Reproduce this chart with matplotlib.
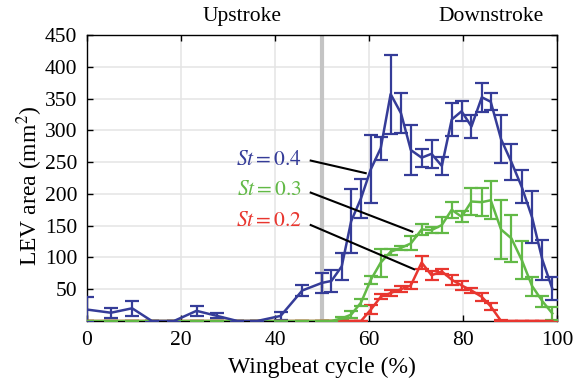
import numpy as np
import matplotlib.pyplot as plt

plt.rcParams['font.family'] = ['Liberation Serif', 'DejaVu Serif']
plt.rcParams['mathtext.fontset'] = 'stix'

# wingbeat cycle (%) for each sample
cycle = [0, 5.1, 9.6, 13.8, 18.5, 23.3, 27.7, 32.0, 36.2, 41.2, 45.8,
         50.0, 52.0, 54.2, 56.2, 58.3, 60.4, 62.5, 64.6, 66.8, 68.9, 71.2,
         73.3, 75.5, 77.6, 79.7, 81.8, 84.0, 85.9, 88.1, 90.3, 92.5, 94.7,
         96.9, 99.0]

# LEV area (mm^2), mean and spread, St = 0.4
lev_04 = [18, 13, 20, 0, 0, 16, 8, 0, 0, 8, 48,
          60, 63, 86, 157, 193, 239, 272, 357, 327, 269, 257,
          263, 244, 317, 330, 306, 352, 345, 286, 250, 211, 163,
          96, 51]
err_04 = [19, 8, 12, 0, 0, 8, 4, 0, 0, 6, 9,
          16, 17, 21, 50, 31, 54, 18, 62, 31, 40, 14,
          22, 14, 26, 16, 18, 23, 13, 38, 28, 26, 41,
          31, 18]

# St = 0.3
lev_03 = [0, 0, 0, 0, 0, 0, 0, 0, 0, 0, 0,
          0, 0, 4, 10, 29, 65, 92, 109, 115, 122, 144,
          143, 151, 175, 164, 188, 187, 190, 144, 130, 96, 55,
          31, 12]
err_03 = [0, 0, 0, 0, 0, 0, 0, 0, 0, 0, 0,
          0, 0, 2, 5, 6, 6, 22, 5, 3, 11, 9,
          5, 13, 13, 9, 21, 22, 30, 46, 37, 30, 15,
          9, 10]

# St = 0.2
lev_02 = [0, 0, 0, 0, 0, 0, 0, 0, 0, 0, 0,
          0, 0, 0, 0, 0, 18, 38, 44, 50, 56, 92,
          72, 78, 65, 56, 48, 38, 23, 0, 0, 0, 0,
          0, 0]
err_02 = [0, 0, 0, 0, 0, 0, 0, 0, 0, 0, 0,
          0, 0, 0, 0, 0, 7, 4, 5, 5, 5, 10,
          7, 4, 8, 7, 4, 6, 6, 2, 0, 0, 0,
          0, 0]

blue = '#353c98'
green = '#62b946'
red = '#e8362f'

fig = plt.figure(figsize=(5.74, 3.88), dpi=100)
ax = fig.add_axes([87 / 574, 67 / 388, 470 / 574, 286 / 388])

ax.grid(True, color='#e4e4e4', linewidth=1.1)
ax.set_axisbelow(True)
# start of downstroke
ax.axvline(50, color='#c4c4c4', linewidth=3, zorder=1)

for vals, errs, col in [(lev_02, err_02, red), (lev_03, err_03, green), (lev_04, err_04, blue)]:
    ax.errorbar(cycle, vals, yerr=errs, color=col, linewidth=1.8,
                elinewidth=1.6, capsize=4.8, capthick=1.6, zorder=3)

# labels with leader lines
ax.text(45.7, 252, '$St = 0.4$', color=blue, fontsize=15.5, ha='right', va='center')
ax.text(45.7, 205, '$St = 0.3$', color=green, fontsize=15.5, ha='right', va='center')
ax.text(45.7, 156, '$St = 0.2$', color=red, fontsize=15.5, ha='right', va='center')
ax.plot([47.6, 59.3], [252.4, 232.6], color='black', linewidth=1.5, zorder=4)
ax.plot([47.6, 69.2], [202.0, 140.6], color='black', linewidth=1.5, zorder=4)
ax.plot([47.6, 69.6], [151.0, 81.4], color='black', linewidth=1.5, zorder=4)

trans = ax.get_xaxis_transform()
ax.text(33, 1.063, 'Upstroke', transform=trans, ha='center', va='center', fontsize=15.5)
ax.text(86, 1.063, 'Downstroke', transform=trans, ha='center', va='center', fontsize=15.5)

ax.set_xlim(0, 100)
ax.set_ylim(0, 450)
ax.set_xticks(np.arange(0, 101, 20))
ax.set_yticks(np.arange(50, 451, 50))
ax.tick_params(direction='in', top=True, right=True, length=4, width=1,
               labelsize=15.5, pad=7)
for s in ax.spines.values():
    s.set_linewidth(1.0)

ax.set_xlabel('Wingbeat cycle (%)', fontsize=17)
ax.set_ylabel('LEV area (mm$^2$)', fontsize=17)
ax.yaxis.set_label_coords(-0.09, 0.472)
ax.xaxis.set_label_coords(0.5, -0.125)

plt.savefig('out.png', dpi=100)
